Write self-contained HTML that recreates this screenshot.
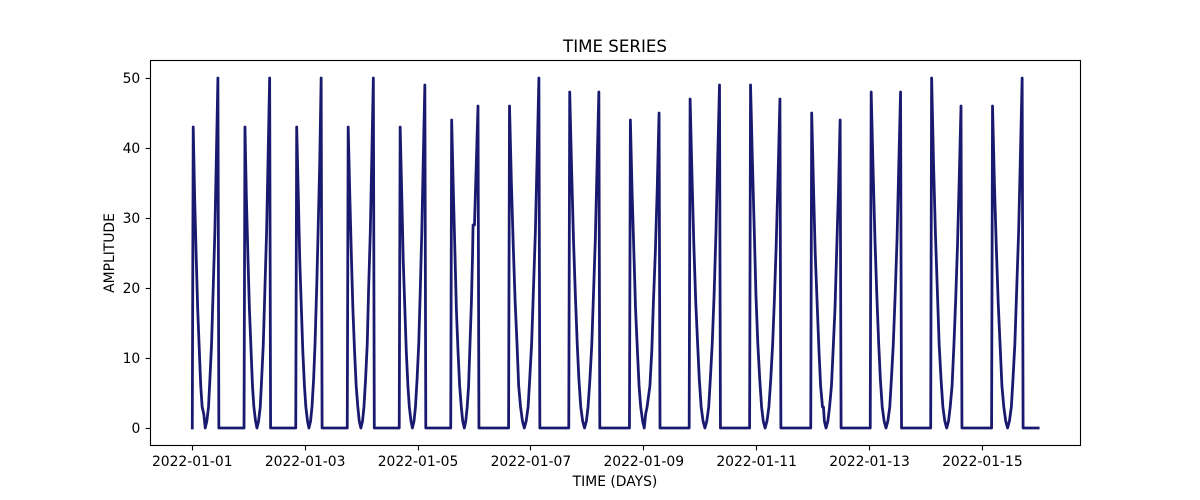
<!DOCTYPE html>
<html lang="en">
<head>
<meta charset="utf-8">
<title>Time Series</title>
<style>
html,body{margin:0;padding:0;background:#fff;}
svg{display:block;}
text{font-family:"DejaVu Sans","Liberation Sans",sans-serif;fill:#000;}
</style>
</head>
<body>
<svg id="chart" width="1200" height="500" viewBox="0 0 1200 500" xmlns="http://www.w3.org/2000/svg">
  <rect x="0" y="0" width="1200" height="500" fill="#ffffff"/>
  <text x="615" y="52" font-size="16.67" text-anchor="middle">TIME SERIES</text>
  <text x="615" y="486" font-size="13.89" text-anchor="middle">TIME (DAYS)</text>
  <text x="0" y="0" font-size="13.89" text-anchor="middle" transform="translate(114 253) rotate(-90)">AMPLITUDE</text>
  <g id="ticks"></g>
  <path id="series" fill="none" stroke="#191970" stroke-width="2.78" stroke-linejoin="round" stroke-linecap="square"/>
  <rect x="150.5" y="60.5" width="930" height="385" fill="none" stroke="#000" stroke-width="1.11"/>
</svg>
<script>
const startDate = "2022-01-01";
const xTickLabels = ["2022-01-01","2022-01-03","2022-01-05","2022-01-07","2022-01-09","2022-01-11","2022-01-13","2022-01-15"];
const yTickValues = [0,10,20,30,40,50];
const hours = [
0,0.4,1.0,1.7,2.3,3.0,3.6,4.2,4.9,5.5,6.2,6.9,7.5,8.2,8.9,9.6,10.2,10.9,11.3,
22.0,22.4,23.0,23.7,24.3,25.0,25.6,26.2,26.9,27.5,28.2,28.9,29.5,30.2,30.9,31.6,32.2,32.9,33.3,
44.0,44.4,45.1,45.7,46.4,47.0,47.7,48.3,49.0,49.6,50.3,50.9,51.6,52.2,52.9,53.5,54.2,54.8,55.2,
65.9,66.3,67.0,67.7,68.3,69.0,69.7,70.4,71.0,71.7,72.4,73.0,73.7,74.4,75.0,75.7,76.3,77.0,77.4,
88.0,88.4,89.1,89.7,90.4,91.0,91.7,92.3,93.0,93.6,94.3,94.9,95.6,96.3,96.9,97.6,98.2,98.9,99.3,
109.9,110.3,111.0,111.7,112.3,113.0,113.7,114.4,115.0,115.7,116.3,116.9,117.5,118.1,118.7,119.2,119.4,120.0,121.5,121.9,
134.5,134.9,135.7,136.5,137.3,138.1,138.8,139.6,140.4,141.2,142.0,142.8,143.5,144.3,145.1,145.9,146.6,147.4,147.8,
160.1,160.5,161.3,162.1,162.9,163.7,164.4,165.2,166.0,166.8,167.6,168.3,169.1,169.9,170.6,171.4,172.1,172.9,173.3,
185.9,186.3,187.0,187.8,188.5,189.3,190.0,190.7,191.5,192.2,192.8,193.4,194.6,195.4,196.1,196.9,197.7,198.5,198.9,
211.3,211.7,212.5,213.3,214.1,214.9,215.6,216.4,217.2,218.0,218.8,219.6,220.3,221.1,221.9,222.7,223.4,224.2,224.6,
237.0,237.4,238.2,239.0,239.7,240.5,241.3,242.1,242.8,243.6,244.4,245.2,246.0,246.8,247.5,248.3,249.1,249.9,250.3,
263.0,263.4,264.2,264.9,265.7,266.5,267.2,268.0,268.4,268.8,269.5,270.3,271.0,271.8,272.5,273.3,274.0,274.8,275.5,275.9,
288.3,288.7,289.5,290.3,291.1,291.9,292.6,293.4,294.2,295.0,295.8,296.6,297.3,298.1,298.9,299.7,300.4,301.2,301.6,
314.0,314.4,315.2,316.0,316.8,317.6,318.4,319.2,320.0,320.8,321.6,322.3,323.1,323.9,324.6,325.4,326.1,326.9,327.3,
339.9,340.3,341.1,341.9,342.7,343.5,344.3,345.1,345.9,346.7,347.5,348.3,349.0,349.8,350.6,351.4,352.1,352.9,353.3,
359.7
];
const amplitude = [
0,43,33,24,17,11,6,3,2,0,1,3,7,12,20,28,38,50,0,
0,43,33,24,17,11,6,3,1,0,1,3,7,12,20,28,38,50,0,
0,43,33,24,17,11,6,3,1,0,1,3,7,12,20,28,38,50,0,
0,43,33,24,17,11,6,3,1,0,1,3,7,12,20,28,38,50,0,
0,43,33,24,17,11,6,3,1,0,1,3,7,12,19,28,38,49,0,
0,44,34,25,17,11,6,3,1,0,1,3,6,12,18,25,29,29,46,0,
0,46,35,26,18,12,6,3,1,0,1,3,7,12,20,28,38,50,0,
0,48,37,27,19,12,7,3,1,0,1,3,7,12,19,27,37,48,0,
0,44,34,25,17,11,6,3,1,0,2,3,6,11,18,25,34,45,0,
0,47,36,26,18,12,7,3,1,0,1,3,7,12,19,28,38,49,0,
0,49,38,28,19,12,7,3,1,0,1,3,7,12,18,26,36,47,0,
0,45,34,25,18,11,6,3,3,1,0,1,3,6,11,17,25,34,44,0,
0,48,37,27,19,12,7,3,1,0,1,3,7,12,19,27,37,48,0,
0,50,38,28,20,12,7,3,1,0,1,3,6,12,18,26,35,46,0,
0,46,35,26,18,12,6,3,1,0,1,3,7,12,20,28,38,50,0,
0
];

const plot = {left:150, right:1080, top:60.5, bottom:445.5};
const xDomain = [-17.98, 377.5];
const yDomain = [-2.5, 52.5];
function xScale(h){ return plot.left + (h - xDomain[0]) / (xDomain[1] - xDomain[0]) * (plot.right - plot.left); }
function yScale(v){ return plot.bottom - (v - yDomain[0]) / (yDomain[1] - yDomain[0]) * (plot.bottom - plot.top); }
function hoursFromLabel(label){ return (Date.parse(label) - Date.parse(startDate)) / 3600000; }
function snap(p){ return Math.floor(p) + 0.5; }

const NS = "http://www.w3.org/2000/svg";
const ticks = document.getElementById("ticks");

xTickLabels.forEach(function(label){
  const x = xScale(hoursFromLabel(label));
  const mark = document.createElementNS(NS, "line");
  
  
  mark.setAttribute("x1", snap(x)); mark.setAttribute("x2", snap(x));
  mark.setAttribute("y1", plot.bottom); mark.setAttribute("y2", plot.bottom + 4.86);
  mark.setAttribute("stroke", "#000"); mark.setAttribute("stroke-width", "1.11");
  ticks.appendChild(mark);
  const text = document.createElementNS(NS, "text");
  
  
  text.setAttribute("x", x); text.setAttribute("y", 466);
  text.setAttribute("font-size", "13.89"); text.setAttribute("text-anchor", "middle");
  text.textContent = label;
  ticks.appendChild(text);
});

yTickValues.forEach(function(value){
  const y = yScale(value);
  const mark = document.createElementNS(NS, "line");
  
  
  mark.setAttribute("x1", plot.left - 4.36); mark.setAttribute("x2", plot.left + 0.5);
  mark.setAttribute("y1", snap(y)); mark.setAttribute("y2", snap(y));
  mark.setAttribute("stroke", "#000"); mark.setAttribute("stroke-width", "1.11");
  ticks.appendChild(mark);
  const text = document.createElementNS(NS, "text");
  
  
  text.setAttribute("x", plot.left - 9.72); text.setAttribute("y", y + 5);
  text.setAttribute("font-size", "13.89"); text.setAttribute("text-anchor", "end");
  text.textContent = String(value);
  ticks.appendChild(text);
});

document.getElementById("series").setAttribute("d", hours.map(function(h, i){
  return (i ? "L" : "M") + xScale(h).toFixed(2) + " " + yScale(amplitude[i]).toFixed(2);
}).join(""));
</script>
</body>
</html>
